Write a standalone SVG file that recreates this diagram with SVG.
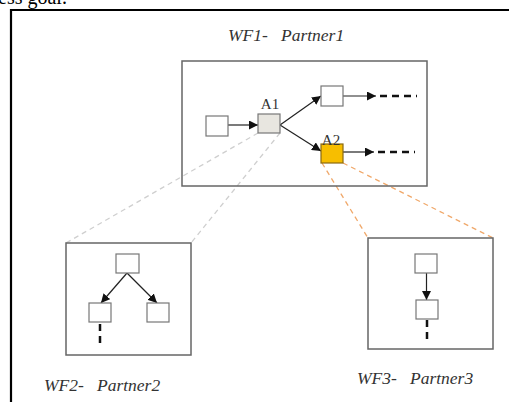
<svg xmlns="http://www.w3.org/2000/svg" width="509" height="402" viewBox="0 0 509 402">
<style>
.lbl{font-family:"Liberation Serif","Times New Roman",serif;font-style:italic;font-size:17.5px;fill:#333}
.alb{font-family:"Liberation Serif","Times New Roman",serif;font-size:15px;fill:#333;text-anchor:middle}
.frame{fill:none;stroke:#666;stroke-width:1.5}
.box{fill:#fff;stroke:#777;stroke-width:1.2}
.arr{stroke:#222;stroke-width:1.2;fill:none;marker-end:url(#ah)}
.dsh{stroke:#111;stroke-width:2.5;stroke-dasharray:7 5;fill:none}
.gry{stroke:#cfcfcf;stroke-width:1.3;stroke-dasharray:5 4;fill:none}
.org{stroke:#f0a86a;stroke-width:1.3;stroke-dasharray:5 4;fill:none}
</style>
<defs>
<marker id="ah" viewBox="0 0 10 10" refX="10" refY="5" markerWidth="9" markerHeight="9" markerUnits="userSpaceOnUse" orient="auto">
<path d="M0,0 L10,5 L0,10 z" fill="#111"/>
</marker>
</defs>
<rect width="509" height="402" fill="#fff"/>
<text x="-2" y="4" style="font-family:'Liberation Serif','Times New Roman',serif;font-size:20px;fill:#000">ess goal.</text>
<path d="M11,402 V10 H509" fill="none" stroke="#000" stroke-width="2.2"/>

<g id="connectors">
<path class="gry" d="M258,133 L66,243"/>
<path class="gry" d="M280,133 L191,243"/>
<path class="org" d="M322,163 L368,238"/>
<path class="org" d="M343,163 L493,238"/>
<path class="arr" d="M228,125 H258"/>
<path class="arr" d="M280,125 L321,96"/>
<path class="arr" d="M280,125 L321,151"/>
<path class="arr" d="M343,96 H376"/>
<path class="dsh" d="M380,96 H417"/>
<path class="arr" d="M343,152 H374"/>
<path class="dsh" d="M378,152 H415"/>
<path class="arr" d="M127,273 L101,303"/>
<path class="arr" d="M127,273 L157,303"/>
<path class="dsh" d="M100,324 V344"/>
<path class="arr" d="M426.5,273 V300"/>
<path class="dsh" d="M427,320 V343"/>
</g>

<g id="wf1">
<rect class="frame" x="182" y="61" width="245" height="125"/>
<text class="lbl" x="228" y="41" xml:space="preserve">WF1-   Partner1</text>
</g>
<g id="s1"><rect class="box" x="206" y="116" width="22" height="20"/></g>
<g id="a1">
<rect x="258" y="114" width="22" height="19" fill="#e8e6e0" stroke="#777" stroke-width="1.2"/>
<text class="alb" x="270" y="109">A1</text>
</g>
<g id="b1"><rect class="box" x="321" y="86" width="22" height="20"/></g>
<g id="a2">
<rect x="321" y="144" width="22" height="19" fill="#f7be00" stroke="#8a6a10" stroke-width="1.2"/>
<text class="alb" x="331" y="145">A2</text>
</g>

<g id="wf2">
<rect class="frame" x="66" y="243" width="125" height="112"/>
<text class="lbl" x="44" y="391" xml:space="preserve">WF2-   Partner2</text>
</g>
<g id="w2top"><rect class="box" x="116" y="254" width="23" height="19"/></g>
<g id="w2left"><rect class="box" x="89" y="303" width="22" height="19"/></g>
<g id="w2right"><rect class="box" x="147" y="303" width="22" height="19"/></g>

<g id="wf3">
<rect class="frame" x="368" y="238" width="125" height="111"/>
<text class="lbl" x="357" y="384" xml:space="preserve">WF3-   Partner3</text>
</g>
<g id="w3top"><rect class="box" x="415" y="254" width="22" height="19"/></g>
<g id="w3bot"><rect class="box" x="416" y="300" width="22" height="19"/></g>
</svg>
